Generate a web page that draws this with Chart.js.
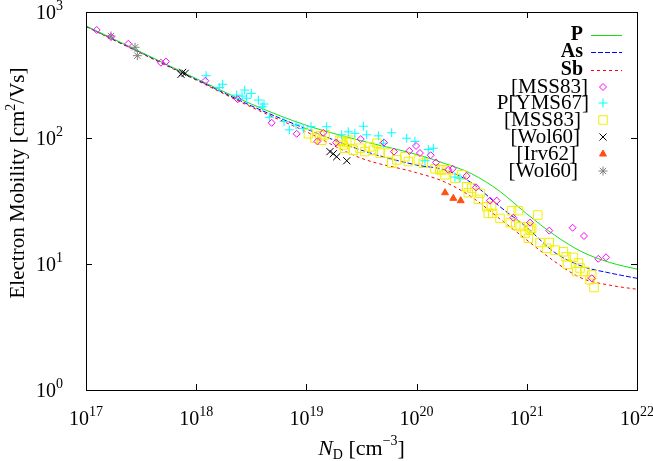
<!DOCTYPE html>
<html>
<head>
<meta charset="utf-8">
<script src="https://cdn.jsdelivr.net/npm/chart.js@4.4.1/dist/chart.umd.min.js"></script>
<style>
  html, body { margin: 0; padding: 0; background: #fff; }
  #wrap { width: 653px; height: 461px; }
</style>
</head>
<body>
<div id="wrap"><canvas id="mobility" width="653" height="461"></canvas></div>
<script>
// ---- data (x values are log10 of N_D in cm^-3) ----

// model curves
const curveLogN = [17, 17.5, 18, 18.5, 19, 19.5, 20, 20.25, 20.5, 20.75, 21, 21.25, 21.5, 21.75, 22];
const pMobility  = [775, 480, 296, 186, 126, 95, 74, 63, 52, 38, 25, 17, 12.5, 10.3, 9.1];
const asMobility = [770, 475, 292, 180, 118, 80, 61, 56, 44, 28.8, 19.5, 12.4, 9.6, 8.5, 7.7];
const sbMobility = [765, 470, 288, 176, 112, 69, 53, 45, 34, 23, 15.5, 10.5, 7.7, 6.8, 6.3];

// [MSS83] magenta diamonds
const mss83aLogN = [17.097, 17.227, 17.384, 17.68, 17.726, 18.083, 18.377, 18.685, 18.912, 19.10, 19.153, 19.27,
  19.493, 19.704, 19.795, 19.934, 19.995, 20.03, 20.128, 20.176, 20.288, 20.327, 20.454, 20.539, 20.666, 20.727,
  20.878, 21.03, 21.204, 21.416, 21.519, 21.589, 21.649, 21.719];
const mss83aMu = [720, 634, 560, 396, 404, 285, 203, 132, 108, 94, 110, 92,
  98, 92, 78, 79, 86.5, 76, 73, 64, 56, 57, 50, 40.6, 31.8, 31.8,
  23.3, 21.3, 18.4, 19.4, 16.7, 7.7, 11, 11.3];

// P[YMS67] cyan plus
const yms67LogN = [18.09, 18.24, 18.21, 18.367, 18.416, 18.44, 18.50, 18.458, 18.564, 18.615, 18.60, 18.664,
  18.797, 18.845, 18.906, 18.972, 19.042, 19.184, 19.38, 19.517, 19.44, 19.547, 19.653, 19.774, 19.91, 19.985,
  20.106, 20.152, 19.70, 19.32, 20.076, 20.348, 20.394];
const yms67Mu = [312, 267, 251, 219, 215, 240, 226, 207, 200, 186, 177, 146,
  135, 116, 127, 119, 123, 123, 112, 124, 109, 106, 104, 110, 99.6, 94,
  81, 83, 91, 106, 66, 49, 48];

// [MSS83] yellow squares
const mss83bLogN = [19.018, 19.078, 19.123, 19.169, 19.139, 19.305, 19.335, 19.366, 19.35, 19.32, 19.40, 19.426,
  19.487, 19.53, 19.577, 19.607, 19.64, 19.668, 19.743, 19.774, 19.82, 19.895, 19.925, 20.016, 20.061, 20.167,
  20.21, 20.228, 20.27, 20.258, 20.348, 20.409, 20.454, 20.469, 20.50, 20.575, 20.56, 20.636, 20.68, 20.65,
  20.69, 20.757, 20.85, 20.862, 20.923, 20.90, 20.94, 21.014, 20.984, 21.03, 21.014, 21.10, 21.044, 21.12,
  21.204, 21.18, 21.256, 21.332, 21.356, 21.42, 21.368, 21.468, 21.453, 21.528, 21.483, 21.589, 21.573, 21.61];
const mss83bMu = [108, 100, 104, 106, 96, 96, 88, 92, 83, 94, 96, 80,
  83, 78, 85, 80, 91, 76, 76, 63, 67, 71, 65, 67, 63, 57,
  56, 56, 56, 51, 47.8, 51, 41, 36.8, 40, 36.4, 32.6, 28.5, 28.8, 25.2,
  25.2, 23, 21.3, 26.5, 26.5, 20.4, 19.8, 19.8, 17.5, 18.6, 16, 24.5, 19.2, 14.8,
  14.8, 13.3, 12.9, 12.5, 11.4, 11.3, 9.96, 10.2, 8.7, 8.7, 9.3, 8.2, 7.5, 6.5];

// [Wol60] black crosses
const wol60aLogN = [17.877, 17.90, 17.862, 19.244, 19.214, 19.275, 19.366];
const wol60aMu = [332, 326, 320, 75, 78, 71, 66];

// [Irv62] orange triangles
const irv62LogN = [20.258, 20.333, 20.40];
const irv62Mu = [36.8, 33.2, 31.8];

// [Wol60] gray stars
const wol60bLogN = [17.227, 17.445, 17.466];
const wol60bMu = [645, 525, 450];

const xExponents = [17, 18, 19, 20, 21, 22];
const yExponents = [0, 1, 2, 3];

// ---- helpers ----
function toPoints(logN, mu) {
    return logN.map((l, i) => ({ x: Math.pow(10, l), y: mu[i] }));
}

const SERIF = '"Liberation Serif", "DejaVu Serif", serif';

function curve(label, mu, color, dash) {
    return {
        label: label,
        data: toPoints(curveLogN, mu),
        showLine: true,
        borderColor: color,
        backgroundColor: color,
        borderWidth: 1,
        borderDash: dash,
        pointRadius: 0,
        cubicInterpolationMode: 'monotone',
        order: 10
    };
}

function markers(label, logN, mu, color, style, radius, filled) {
    return {
        label: label,
        data: toPoints(logN, mu),
        showLine: false,
        pointStyle: style,
        pointRadius: radius,
        pointBorderColor: color,
        pointBackgroundColor: filled ? color : 'rgba(0,0,0,0)',
        pointBorderWidth: 1,
        order: 0
    };
}

const datasets = [
    curve('P', pMobility, '#11e011', []),
    curve('As', asMobility, '#0000ff', [5, 2]),
    curve('Sb', sbMobility, '#ff0000', [3, 3]),
    markers('[MSS83]', mss83aLogN, mss83aMu, '#ff00ff', 'rectRot', 3.5, false),
    markers('P[YMS67]', yms67LogN, yms67Mu, '#00ffff', 'cross', 4.5, false),
    markers('[MSS83]', mss83bLogN, mss83bMu, '#f0f000', 'rect', 6, false),
    markers('[Wol60]', wol60aLogN, wol60aMu, '#000000', 'crossRot', 5, false),
    markers('[Irv62]', irv62LogN, irv62Mu, '#ff5010', 'triangle', 4, true),
    markers('[Wol60]', wol60bLogN, wol60bMu, '#808080', 'star', 4.5, false)
];

// draw "10" with a raised exponent; align: 'center' or 'right'
function drawPower(ctx, exp, x, y, align) {
    ctx.font = '20px ' + SERIF;
    const baseW = ctx.measureText('10').width;
    ctx.font = '14px ' + SERIF;
    const expW = ctx.measureText(String(exp)).width;
    const total = baseW + expW;
    const x0 = align === 'right' ? x - total : x - total / 2;
    ctx.textAlign = 'left';
    ctx.textBaseline = 'alphabetic';
    ctx.font = '20px ' + SERIF;
    ctx.fillText('10', x0, y);
    ctx.font = '14px ' + SERIF;
    ctx.fillText(String(exp), x0 + baseW, y - 9);
}

const framePlugin = {
    id: 'frame',
    afterDraw(chart) {
        const ctx = chart.ctx;
        const { left, right, top, bottom } = chart.chartArea;
        const xs = chart.scales.x, ys = chart.scales.y;
        ctx.save();
        ctx.strokeStyle = '#000';
        ctx.lineWidth = 1;
        ctx.strokeRect(Math.round(left) + 0.5, Math.round(top) + 0.5, Math.round(right - left), Math.round(bottom - top));

        // inward major ticks on all four sides
        ctx.beginPath();
        xExponents.forEach(e => {
            const px = Math.round(xs.getPixelForValue(Math.pow(10, e))) + 0.5;
            ctx.moveTo(px, bottom); ctx.lineTo(px, bottom - 6);
            ctx.moveTo(px, top); ctx.lineTo(px, top + 6);
        });
        yExponents.forEach(e => {
            const py = Math.round(ys.getPixelForValue(Math.pow(10, e))) + 0.5;
            ctx.moveTo(left, py); ctx.lineTo(left + 6, py);
            ctx.moveTo(right, py); ctx.lineTo(right - 6, py);
        });
        ctx.stroke();

        // tick labels
        ctx.fillStyle = '#000';
        xExponents.forEach(e => drawPower(ctx, e, xs.getPixelForValue(Math.pow(10, e)), bottom + 35, 'center'));
        yExponents.forEach(e => drawPower(ctx, e, left - 23, ys.getPixelForValue(Math.pow(10, e)) + 7, 'right'));

        // x title: N_D [cm^-3]
        const parts = [
            { t: 'N', f: 'italic 22px ' + SERIF, dy: 0 },
            { t: 'D', f: '14px ' + SERIF, dy: 4 },
            { t: ' [cm', f: '22px ' + SERIF, dy: 0 },
            { t: '\u22123', f: '14px ' + SERIF, dy: -10 },
            { t: ']', f: '22px ' + SERIF, dy: 0 }
        ];
        drawRich(ctx, parts, (left + right) / 2, bottom + 65);

        // y title, rotated
        ctx.save();
        ctx.translate(17, 183);
        ctx.rotate(-Math.PI / 2);
        drawRich(ctx, [
            { t: 'Electron Mobility [cm', f: '21px ' + SERIF, dy: 0 },
            { t: '2', f: '14px ' + SERIF, dy: -9 },
            { t: '/Vs]', f: '21px ' + SERIF, dy: 0 }
        ], 0, 7);
        ctx.restore();

        drawKey(ctx);
        ctx.restore();
    }
};

function drawRich(ctx, parts, cx, baseline) {
    let w = 0;
    parts.forEach(p => { ctx.font = p.f; p.w = ctx.measureText(p.t).width; w += p.w; });
    let x = cx - w / 2;
    ctx.textAlign = 'left';
    ctx.textBaseline = 'alphabetic';
    ctx.fillStyle = '#000';
    parts.forEach(p => { ctx.font = p.f; ctx.fillText(p.t, x, baseline + p.dy); x += p.w; });
}

// key in the upper right, gnuplot style
function drawKey(ctx) {
    const textRight = [583, 583, 583, 588, 589, 581, 580, 576, 578];
    const rowY = [35, 52, 70, 87, 103, 120, 137, 154, 171];
    ctx.textAlign = 'right';
    ctx.textBaseline = 'middle';
    datasets.forEach((ds, i) => {
        const y = rowY[i];
        ctx.fillStyle = '#000';
        ctx.font = (i < 3 ? 'bold 20px ' : '21px ') + SERIF;
        ctx.fillText(ds.label, textRight[i], y);
        if (i < 3) {
            ctx.save();
            ctx.strokeStyle = ds.borderColor;
            ctx.lineWidth = 1;
            ctx.setLineDash(ds.borderDash);
            ctx.beginPath();
            ctx.moveTo(591, y + 0.5);
            ctx.lineTo(622, y + 0.5);
            ctx.stroke();
            ctx.restore();
        } else {
            ctx.save();
            ctx.strokeStyle = ds.pointBorderColor;
            ctx.fillStyle = ds.pointBackgroundColor;
            ctx.lineWidth = 1;
            Chart.helpers.drawPoint(ctx, { pointStyle: ds.pointStyle, radius: ds.pointRadius, rotation: 0, borderWidth: 1 }, 603, y);
            ctx.restore();
        }
    });
}

new Chart(document.getElementById('mobility'), {
    type: 'scatter',
    data: { datasets: datasets },
    options: {
        responsive: false,
        animation: false,
        layout: { padding: { left: 86, right: 16, top: 12, bottom: 71 } },
        plugins: { legend: { display: false }, tooltip: { enabled: false } },
        scales: {
            x: { type: 'logarithmic', min: 1e17, max: 1e22, display: false },
            y: { type: 'logarithmic', min: 1, max: 1000, display: false }
        }
    },
    plugins: [framePlugin]
});
</script>
</body>
</html>
